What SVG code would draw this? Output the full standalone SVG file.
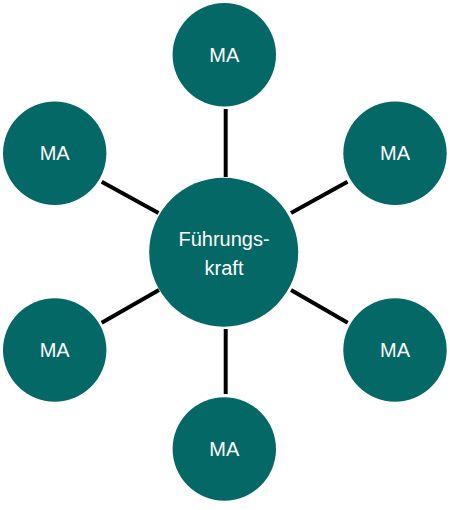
<svg xmlns="http://www.w3.org/2000/svg" width="450" height="510" viewBox="0 0 450 510">
<style>
.node{fill:#036866;}
.lbl{fill:#ffffff;font-family:"Liberation Sans",Arial,sans-serif;font-size:20px;text-anchor:middle;}
.conn line{stroke:#000000;stroke-width:4;}
</style>
<rect width="450" height="510" fill="#ffffff"/>
<g id="connectors" class="conn">
<line x1="225.7" y1="109" x2="225.7" y2="177"/>
<line x1="225.7" y1="329" x2="225.7" y2="394"/>
<line x1="101.7" y1="181.7" x2="158.5" y2="213"/>
<line x1="347.5" y1="181.7" x2="291" y2="213"/>
<line x1="101.7" y1="322.7" x2="159" y2="290"/>
<line x1="347.7" y1="322.7" x2="291" y2="290"/>
</g>
<g id="center">
<circle class="node" cx="223.7" cy="252.2" r="74.5"/>
<text class="lbl" x="224" y="246">Führungs-</text>
<text class="lbl" x="224" y="275">kraft</text>
</g>
<g id="ma-top">
<circle class="node" cx="224.3" cy="54.7" r="51.7"/>
<text class="lbl" x="224.3" y="61.7">MA</text>
</g>
<g id="ma-top-left">
<circle class="node" cx="54.7" cy="153.3" r="51.7"/>
<text class="lbl" x="54.7" y="160.3">MA</text>
</g>
<g id="ma-top-right">
<circle class="node" cx="395" cy="153.3" r="51.7"/>
<text class="lbl" x="395" y="160.3">MA</text>
</g>
<g id="ma-bottom-left">
<circle class="node" cx="54.7" cy="350" r="51.7"/>
<text class="lbl" x="54.7" y="357">MA</text>
</g>
<g id="ma-bottom-right">
<circle class="node" cx="395" cy="350" r="51.7"/>
<text class="lbl" x="395" y="357">MA</text>
</g>
<g id="ma-bottom">
<circle class="node" cx="224.3" cy="449" r="51.7"/>
<text class="lbl" x="224.3" y="456">MA</text>
</g>
</svg>
